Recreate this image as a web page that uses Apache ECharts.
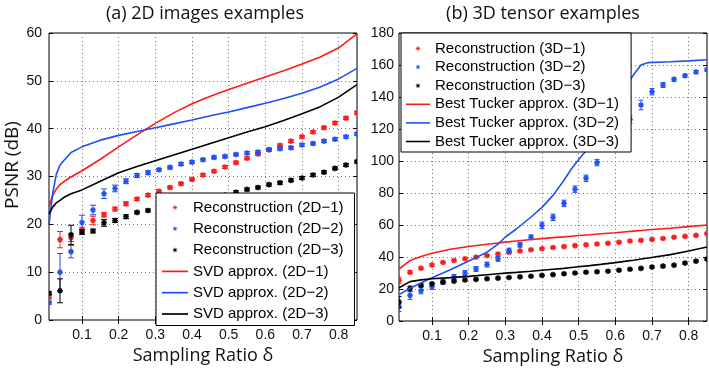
<!DOCTYPE html>
<html>
<head>
<meta charset="utf-8">
<script src="https://cdn.jsdelivr.net/npm/echarts@6/dist/echarts.min.js"></script>
<style>
html, body { margin: 0; padding: 0; background: #fff; }
#chart { width: 709px; height: 373px; }
</style>
</head>
<body>
<div id="chart"></div>
<script>
// sampling ratios of the reconstruction runs (same for both panels)
var ratio = [0.01, 0.04, 0.07, 0.10, 0.13, 0.16, 0.19, 0.22, 0.25, 0.28, 0.31, 0.34, 0.37, 0.40, 0.43,
             0.46, 0.49, 0.52, 0.55, 0.58, 0.61, 0.64, 0.67, 0.70, 0.73, 0.76, 0.79, 0.82, 0.85];
var xTicks = [0.1, 0.2, 0.3, 0.4, 0.5, 0.6, 0.7, 0.8];

// (a) 2D images
var rec2d1 = [4.8, 16.8, 17.2, 18.8, 20.8, 22.0, 23.2, 24.3, 25.3, 26.1, 26.9, 27.7, 28.5, 29.4, 30.3,
              31.1, 32.0, 32.9, 33.8, 34.7, 35.6, 36.5, 37.4, 38.3, 39.3, 40.2, 41.2, 42.2, 43.3];
var rec2d1Err = [0.4, 1.7, 0.8, 0.6, 0.9, 0.5, 0.4, 0.4, 0.3, 0.3, 0.3, 0.3, 0.3, 0.3, 0.3,
                 0.3, 0.3, 0.3, 0.3, 0.3, 0.3, 0.3, 0.3, 0.3, 0.3, 0.3, 0.3, 0.3, 0.3];
var rec2d2 = [3.6, 10.0, 14.3, 20.4, 23.0, 26.4, 27.5, 29.0, 30.2, 30.8, 31.4, 31.9, 32.6, 33.0, 33.5,
              34.0, 34.2, 34.6, 34.9, 35.1, 35.6, 35.8, 36.0, 36.6, 36.9, 37.4, 37.8, 38.3, 38.9];
var rec2d2Err = [0.3, 3.9, 1.3, 1.5, 1.0, 1.0, 0.7, 0.5, 0.4, 0.4, 0.3, 0.3, 0.3, 0.3, 0.3,
                 0.3, 0.3, 0.3, 0.3, 0.3, 0.3, 0.3, 0.3, 0.3, 0.3, 0.3, 0.3, 0.3, 0.3];
var rec2d3 = [5.6, 6.1, 17.8, 18.4, 18.6, 20.3, 20.8, 21.6, 22.5, 22.9, 23.3, 23.7, 24.1, 24.5, 25.0,
              25.5, 26.1, 26.7, 27.3, 27.7, 28.3, 28.7, 29.2, 29.7, 30.3, 30.9, 31.7, 32.4, 33.1];
var rec2d3Err = [0.3, 2.5, 2.0, 0.5, 0.4, 0.7, 0.4, 0.4, 0.3, 0.3, 0.3, 0.3, 0.3, 0.3, 0.3,
                 0.3, 0.3, 0.3, 0.3, 0.3, 0.3, 0.3, 0.3, 0.3, 0.3, 0.3, 0.3, 0.3, 0.3];

var svdX = [0.01, 0.02, 0.03, 0.04, 0.05, 0.07, 0.10, 0.15, 0.20, 0.25, 0.30, 0.35, 0.40, 0.45, 0.50,
            0.55, 0.60, 0.65, 0.70, 0.75, 0.80, 0.85];
var svd2d1 = [23.8, 26.0, 27.4, 28.3, 28.9, 29.9, 31.2, 33.6, 36.2, 38.7, 41.1, 43.3, 45.2, 46.8, 48.2,
              49.5, 50.8, 52.1, 53.5, 55.0, 56.9, 59.8];
var svd2d2 = [20.0, 26.5, 30.5, 32.4, 33.3, 35.0, 36.2, 37.6, 38.6, 39.4, 40.2, 41.0, 41.8, 42.7, 43.5,
              44.4, 45.3, 46.3, 47.4, 48.7, 50.4, 52.6];
var svd2d3 = [22.2, 23.6, 24.5, 25.0, 25.6, 26.4, 27.2, 29.0, 30.8, 32.1, 33.3, 34.5, 35.7, 36.9, 38.1,
              39.3, 40.4, 41.7, 43.1, 44.6, 46.6, 49.2];

// (b) 3D tensors
var rec3d1 = [25.5, 30.5, 33.0, 35.0, 36.6, 37.8, 38.9, 39.9, 40.9, 41.9, 42.9, 43.8, 44.5, 45.2, 45.9,
              46.5, 47.1, 47.6, 48.1, 48.6, 49.2, 50.0, 50.4, 51.0, 51.6, 52.3, 52.9, 53.5, 54.6];
var rec3d1Err = [2.0, 1.0, 0.8, 0.8, 0.7, 0.7, 0.6, 0.6, 0.6, 0.6, 0.6, 0.6, 0.6, 0.6, 0.6,
                 0.6, 0.6, 0.6, 0.6, 0.6, 0.6, 0.6, 0.6, 0.6, 0.6, 0.6, 0.6, 0.6, 0.6];
var rec3d2 = [9.0, 16.0, 19.0, 21.5, 24.5, 27.5, 30.0, 32.5, 35.3, 38.8, 44.0, 47.6, 52.3, 59.8, 64.8,
              73.5, 82.4, 89.2, 99.0, 108.0, 117.0, 126.0, 135.0, 143.3, 147.5, 151.0, 153.3, 155.6, 157.0];
var rec3d2Err = [3.0, 2.5, 2.0, 1.8, 1.5, 1.5, 1.5, 1.5, 1.5, 1.5, 1.5, 1.5, 1.5, 2.0, 2.0,
                 2.0, 2.0, 2.0, 2.0, 2.0, 2.5, 2.5, 3.0, 2.0, 1.5, 1.2, 1.0, 1.0, 1.0];
var rec3d3 = [11.8, 20.3, 22.3, 23.3, 24.2, 24.9, 25.6, 26.0, 26.4, 26.8, 27.2, 27.6, 28.0, 28.5, 29.0,
              29.5, 30.0, 30.5, 30.8, 31.1, 31.7, 32.3, 32.9, 33.7, 34.3, 34.9, 36.2, 37.4, 38.7];
var rec3d3Err = [3.5, 1.5, 0.8, 0.7, 0.6, 0.6, 0.6, 0.6, 0.6, 0.6, 0.6, 0.6, 0.6, 0.6, 0.6,
                 0.6, 0.6, 0.6, 0.6, 0.6, 0.6, 0.6, 0.6, 0.6, 0.6, 0.6, 0.6, 0.6, 0.6];

var tuckX = [0.01, 0.04, 0.07, 0.10, 0.15, 0.20, 0.25, 0.28, 0.30, 0.33, 0.37, 0.40, 0.43, 0.46, 0.48,
             0.50, 0.53, 0.56, 0.60, 0.63, 0.65, 0.67, 0.69, 0.75, 0.80, 0.85];
var tuck3d1 = [32.5, 37.8, 40.3, 42.3, 44.8, 46.6, 48.0, 48.8, 49.3, 50.0, 50.9, 51.5, 52.1, 52.6, 53.0,
               53.4, 53.9, 54.5, 55.2, 55.8, 56.2, 56.6, 57.0, 58.0, 59.0, 60.0];
var tuck3d2 = [16.5, 20.5, 23.8, 27.0, 32.0, 37.5, 43.0, 48.0, 52.5, 57.5, 65.0, 71.0, 78.5, 88.0, 95.0,
               101.0, 109.0, 119.0, 135.0, 147.0, 154.0, 160.0, 161.5, 162.0, 162.6, 163.3];
var tuck3d3 = [20.8, 24.6, 25.7, 26.4, 27.1, 27.9, 28.9, 29.5, 29.9, 30.4, 31.1, 31.7, 32.3, 32.9, 33.4,
               33.9, 34.6, 35.4, 36.5, 37.4, 38.0, 38.7, 39.4, 41.5, 43.7, 46.3];

var RED = '#ff1a1a', BLUE = '#1f4ff5', BLACK = '#000000';
var tickFont = 'Liberation Sans';
var titleFont = 'Open Sans';

function zip3(xs, ys, es) {
    return xs.map(function (x, i) { return [x, ys[i], es[i]]; });
}
function zip2(xs, ys) {
    return xs.map(function (x, i) { return [x, ys[i]]; });
}

// small 8-point star, padded to a 14x14 box so the legend keeps it small
function starIcon() {
    var d = 'path://M0 0M14 14M';
    for (var i = 0; i < 16; i++) {
        var a = i * Math.PI / 8 - Math.PI / 2;
        var r = i % 2 ? 1.1 : 3.0;
        d += (i ? 'L' : '') + (7 + r * Math.cos(a)).toFixed(2) + ' ' + (7 + r * Math.sin(a)).toFixed(2);
    }
    return d + 'Z';
}
// plain line for the approximation curves
var lineIcon = 'path://M0 0L26 0L26 1.7L0 1.7Z';

function errorRender(capHalf) {
    return function (params, api) {
        var x = api.value(0), y = api.value(1), e = api.value(2);
        var p = api.coord([x, y]);
        var top = api.coord([x, y + e])[1];
        var bot = api.coord([x, y - e])[1];
        var color = api.visual('color');
        var s = { stroke: color, lineWidth: 1 };
        var m = { stroke: color, lineWidth: 1.5 };
        var r = 2.8, q = 2.0;
        return {
            type: 'group',
            children: [
                { type: 'line', shape: { x1: p[0], y1: top, x2: p[0], y2: bot }, style: s },
                { type: 'line', shape: { x1: p[0] - capHalf, y1: top, x2: p[0] + capHalf, y2: top }, style: s },
                { type: 'line', shape: { x1: p[0] - capHalf, y1: bot, x2: p[0] + capHalf, y2: bot }, style: s },
                { type: 'line', shape: { x1: p[0] - r, y1: p[1], x2: p[0] + r, y2: p[1] }, style: m },
                { type: 'line', shape: { x1: p[0], y1: p[1] - r, x2: p[0], y2: p[1] + r }, style: m },
                { type: 'line', shape: { x1: p[0] - q, y1: p[1] - q, x2: p[0] + q, y2: p[1] + q }, style: m },
                { type: 'line', shape: { x1: p[0] - q, y1: p[1] + q, x2: p[0] + q, y2: p[1] - q }, style: m }
            ]
        };
    };
}

function recSeries(name, data, color, g, cap) {
    return {
        name: name, type: 'custom', xAxisIndex: g * 2, yAxisIndex: g * 2,
        renderItem: errorRender(cap), itemStyle: { color: color },
        encode: { x: 0, y: 1 }, data: data, clip: true, silent: true
    };
}
function lineSeries(name, data, color, g) {
    return {
        name: name, type: 'line', xAxisIndex: g * 2, yAxisIndex: g * 2,
        data: data, symbol: 'none', showSymbol: false, smooth: false,
        itemStyle: { color: color }, lineStyle: { color: color, width: 1.6 },
        silent: true, z: 3
    };
}

function xAxes(g) {
    return [{
        gridIndex: g, type: 'value', min: 0.01, max: 0.85, position: 'bottom',
        axisLine: { show: false },
        axisTick: { inside: true, length: 4, customValues: xTicks, lineStyle: { color: '#000' } },
        axisLabel: {
            customValues: xTicks, margin: 8, fontSize: 14, fontFamily: tickFont, color: '#111',
            formatter: function (v) { return v.toFixed(1); }
        },
        splitLine: { show: true, lineStyle: { type: [1, 3], color: '#7a7a7a', width: 1 } },
        name: 'Sampling Ratio δ', nameLocation: 'middle', nameGap: 25,
        nameTextStyle: { fontFamily: titleFont, fontSize: 18, color: '#111' }
    }, {
        gridIndex: g, type: 'value', min: 0.01, max: 0.85, position: 'top',
        axisLine: { show: false },
        axisTick: { inside: true, length: 4, customValues: xTicks, lineStyle: { color: '#000' } },
        axisLabel: { show: false }, splitLine: { show: false }
    }];
}
function yAxes(g, max, step, margin) {
    return [{
        gridIndex: g, type: 'value', min: 0, max: max, interval: step, position: 'left',
        axisLine: { show: false },
        axisTick: { inside: true, length: 4, lineStyle: { color: '#000' } },
        axisLabel: { margin: margin, fontSize: 14, fontFamily: tickFont, color: '#111' },
        splitLine: { show: true, lineStyle: { type: [1, 3], color: '#7a7a7a', width: 1 } }
    }, {
        gridIndex: g, type: 'value', min: 0, max: max, interval: step, position: 'right',
        axisLine: { show: false },
        axisTick: { inside: true, length: 4, lineStyle: { color: '#000' } },
        axisLabel: { show: false }, splitLine: { show: false }
    }];
}

var names2d = ['Reconstruction (2D\u22121)', 'Reconstruction (2D\u22122)', 'Reconstruction (2D\u22123)',
               'SVD approx. (2D\u22121)', 'SVD approx. (2D\u22122)', 'SVD approx. (2D\u22123)'];
var names3d = ['Reconstruction (3D\u22121)', 'Reconstruction (3D\u22122)', 'Reconstruction (3D\u22123)',
               'Best Tucker approx. (3D\u22121)', 'Best Tucker approx. (3D\u22122)', 'Best Tucker approx. (3D\u22123)'];

function legendData(names) {
    return names.map(function (n, i) { return { name: n, icon: i < 3 ? starIcon() : lineIcon }; });
}

var chart = echarts.init(document.getElementById('chart'), null, { renderer: 'canvas' });

var option = {
    animation: false,
    backgroundColor: '#fff',
    grid: [
        { left: 49, top: 33, width: 308, height: 287, show: true, borderColor: '#000', borderWidth: 1, backgroundColor: '#fff' },
        { left: 399, top: 33, width: 308, height: 288, show: true, borderColor: '#000', borderWidth: 1, backgroundColor: '#fff' }
    ],
    xAxis: xAxes(0).concat(xAxes(1)),
    yAxis: yAxes(0, 60, 10, 7).concat(yAxes(1, 180, 20, 5)),
    legend: [{
        data: legendData(names2d), orient: 'vertical', left: 156, top: 193,
        selectedMode: false, backgroundColor: '#fff', borderColor: '#000', borderWidth: 1,
        padding: [7, 11, 4, 6], itemWidth: 26, itemHeight: 14, itemGap: 6.3,
        textStyle: { fontFamily: tickFont, fontSize: 15, color: '#000' }
    }, {
        data: legendData(names3d), orient: 'vertical', left: 401, top: 33,
        selectedMode: false, backgroundColor: '#fff', borderColor: '#000', borderWidth: 1,
        padding: [8, 12, 3, 5], itemWidth: 24, itemHeight: 14, itemGap: 3.6,
        textStyle: { fontFamily: tickFont, fontSize: 15, color: '#000' }
    }],
    graphic: [
        { type: 'text', x: 205, y: 14, style: { text: '(a) 2D images examples', fontFamily: titleFont, fontSize: 18, fill: '#111', textAlign: 'center', textVerticalAlign: 'middle' } },
        { type: 'text', x: 543, y: 14, style: { text: '(b) 3D tensor examples', fontFamily: titleFont, fontSize: 18, fill: '#111', textAlign: 'center', textVerticalAlign: 'middle' } },
        { type: 'text', x: 13, y: 165, rotation: Math.PI / 2, style: { text: 'PSNR (dB)', fontFamily: titleFont, fontSize: 19, fill: '#111', textAlign: 'center', textVerticalAlign: 'middle' } }
    ],
    series: [
        recSeries(names2d[0], zip3(ratio, rec2d1, rec2d1Err), RED, 0, 3),
        recSeries(names2d[1], zip3(ratio, rec2d2, rec2d2Err), BLUE, 0, 3),
        recSeries(names2d[2], zip3(ratio, rec2d3, rec2d3Err), BLACK, 0, 3),
        lineSeries(names2d[3], zip2(svdX, svd2d1), RED, 0),
        lineSeries(names2d[4], zip2(svdX, svd2d2), BLUE, 0),
        lineSeries(names2d[5], zip2(svdX, svd2d3), BLACK, 0),
        recSeries(names3d[0], zip3(ratio, rec3d1, rec3d1Err), RED, 1, 2.5),
        recSeries(names3d[1], zip3(ratio, rec3d2, rec3d2Err), BLUE, 1, 2.5),
        recSeries(names3d[2], zip3(ratio, rec3d3, rec3d3Err), BLACK, 1, 2.5),
        lineSeries(names3d[3], zip2(tuckX, tuck3d1), RED, 1),
        lineSeries(names3d[4], zip2(tuckX, tuck3d2), BLUE, 1),
        lineSeries(names3d[5], zip2(tuckX, tuck3d3), BLACK, 1)
    ]
};

chart.setOption(option);
</script>
</body>
</html>
